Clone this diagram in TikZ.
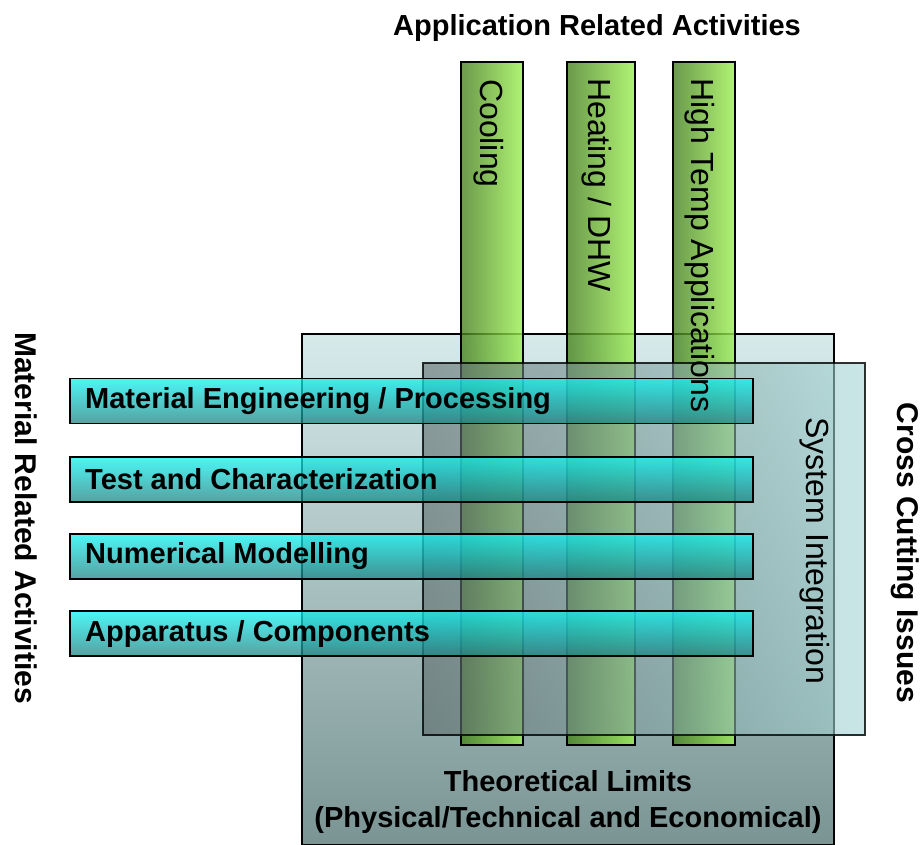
\documentclass[tikz,border=0pt]{standalone}
\usepackage{fontspec}
\setmainfont{Liberation Sans}
\begin{document}
\begin{tikzpicture}[x=1pt,y=-1pt,
  boxline/.style={draw=black, line width=1.6pt},
  bigbox/.style={boxline, top color=bigtop, middle color=bigmid, bottom color=bigbot, minimum width=532pt, minimum height=511pt, inner sep=0},
  sysbox/.style={boxline, draw opacity=0.8, left color=syslft, right color=sysrgt, fill opacity=0.6, minimum width=442pt, minimum height=372pt, inner sep=0},
  greenbar/.style={boxline, left color=grnlft, right color=grnrgt, fill opacity=0.8, minimum height=683pt, inner sep=0},
  cyanbar/.style={boxline, top color=cyntop, bottom color=cynbot, fill opacity=0.75, minimum width=683pt, minimum height=45pt, inner sep=0},
  boldtxt/.style={font=\fontsize{29}{33}\selectfont\bfseries, inner sep=0, text=black},
  regtxt/.style={font=\fontsize{32}{36}\selectfont, inner sep=0, text=black}
]
\definecolor{bigtop}{HTML}{D6EAEA}
\definecolor{bigmid}{HTML}{B2BEBE}
\definecolor{bigbot}{HTML}{7A9494}
\definecolor{syslft}{HTML}{5F6C6C}
\definecolor{sysrgt}{HTML}{A6D6D6}
\definecolor{grnlft}{HTML}{46801E}
\definecolor{grnrgt}{HTML}{9CF050}
\definecolor{cyntop}{HTML}{10F2F2}
\definecolor{cynbot}{HTML}{1E8282}
\useasboundingbox (0,0) rectangle (924,845);

% background boxes
\node[bigbox] (limits) at (568,589.5) {};
\node[greenbar, minimum width=62pt] (cool) at (492,403.5) {};
\node[greenbar, minimum width=68pt] (heat) at (601,403.5) {};
\node[greenbar, minimum width=62pt] (high) at (704,403.5) {};
\node[sysbox] (sys) at (644,549) {};
\node[cyanbar] (mat) at (411.5,401) {};
\node[cyanbar] (test) at (411.5,479.5) {};
\node[cyanbar] (num) at (411.5,556.5) {};
\node[cyanbar] (app) at (411.5,633.5) {};

% labels
\node[boldtxt] (ttl) at (597,28) {Application Related Activities};
\node[boldtxt, rotate=-90, font=\fontsize{30}{33}\selectfont\bfseries] (matrel) at (26,518) {Material Related Activities};
\node[boldtxt, rotate=-90, font=\fontsize{30}{33}\selectfont\bfseries] (cross) at (905,553) {Cross Cutting Issues};
\node[regtxt, rotate=-90] (sysl) at (815,551) {System Integration};

\node[regtxt, rotate=-90, anchor=west] (coolt) at (489,79) {Cooling};
\node[regtxt, rotate=-90, anchor=west] (heatt) at (597,78) {Heating / DHW};
\node[regtxt, rotate=-90, anchor=west] (hight) at (700,78) {High Temp Applications};

\node[boldtxt, anchor=west] (matt) at (85,401) {Material Engineering / Processing};
\node[boldtxt, anchor=west] (testt) at (85,479.5) {Test and Characterization};
\node[boldtxt, anchor=west] (numt) at (85,556.5) {Numerical Modelling};
\node[boldtxt, anchor=west] (appt) at (85,633.5) {Apparatus / Components};

\node[boldtxt] (lim1) at (568,781) {Theoretical Limits};
\node[boldtxt] (lim2) at (568,820) {(Physical/Technical and Economical)};
\end{tikzpicture}
\end{document}
